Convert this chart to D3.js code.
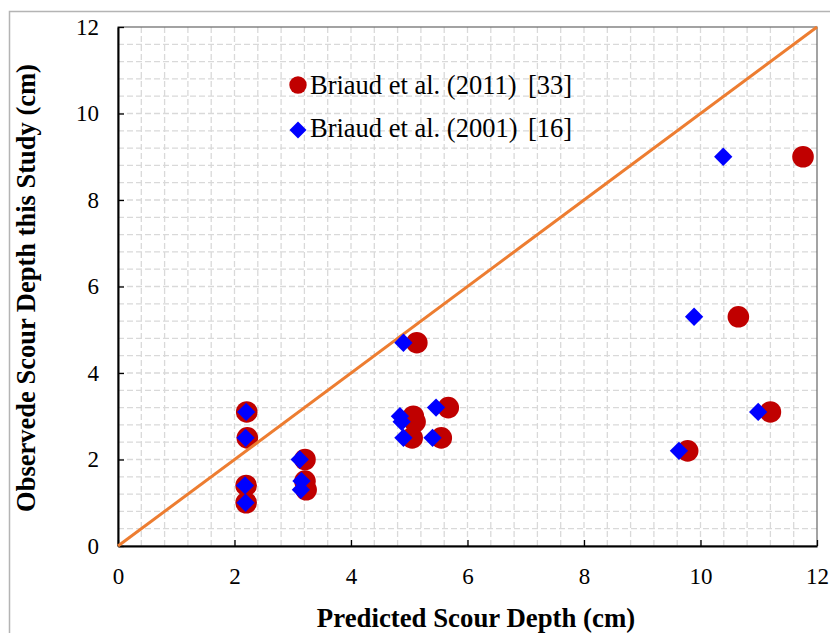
<!DOCTYPE html>
<html>
<head>
<meta charset="utf-8">
<script src="https://cdn.jsdelivr.net/npm/d3@7"></script>
<style>
  body { margin: 0; background: #fff; }
  svg text { font-family: "Liberation Serif", "Times New Roman", serif; }
</style>
</head>
<body>
<svg id="chart" width="830" height="633"></svg>
<script>
// Values
const briaud2011X = [11.76, 10.65, 11.2, 9.78, 5.13, 5.67, 5.07, 5.1, 5.05, 5.55, 2.21, 2.22, 2.2, 2.2, 3.21, 3.21, 3.23]
const briaud2011Y = [9.0, 5.3, 3.1, 2.2, 4.7, 3.2, 3.0, 2.87, 2.5, 2.5, 3.1, 2.5, 1.4, 1.0, 2.0, 1.5, 1.3]
const briaud2001X = [10.39, 9.89, 10.99, 9.63, 4.9, 5.46, 4.84, 4.87, 4.9, 5.4, 2.2, 2.19, 2.18, 2.19, 3.12, 3.15, 3.14]
const briaud2001Y = [9.0, 5.3, 3.1, 2.2, 4.7, 3.2, 3.0, 2.87, 2.5, 2.5, 3.1, 2.5, 1.4, 1.0, 2.0, 1.5, 1.3]
const lineX = [0, 12]
const lineY = [0, 12]
const tickValues = [0, 2, 4, 6, 8, 10, 12]
const legendLabels = ["Briaud et al. (2011)", "Briaud et al. (2001)"]
const legendRefs = ["[33]", "[16]"]

const serif = "Liberation Serif, Times New Roman, serif"
const svg = d3.select("#chart")

const x = d3.scaleLinear().domain([0, 12]).range([118, 817])
const y = d3.scaleLinear().domain([0, 12]).range([546, 27])

// outer chart area border (runs off the bottom / right of the picture)
svg.append("rect")
  .attr("x", 9.5).attr("y", 11.5)
  .attr("width", 900).attr("height", 700)
  .attr("fill", "none")
  .attr("stroke", "#b4b4b4")
  .attr("stroke-width", 1.5)

// minor dashed grid every 0.4
const gridVals = d3.range(1, 30).map(i => i * 0.4)
const grid = svg.append("g")
grid.selectAll("line.v")
  .data(gridVals)
  .enter()
  .append("line")
  .attr("class", "v")
  .attr("x1", d => x(d)).attr("x2", d => x(d))
  .attr("y1", y(0)).attr("y2", y(12))
grid.selectAll("line.h")
  .data(gridVals)
  .enter()
  .append("line")
  .attr("class", "h")
  .attr("y1", d => y(d)).attr("y2", d => y(d))
  .attr("x1", x(0)).attr("x2", x(12))
grid.selectAll("line")
  .attr("stroke", "#d9d9d9")
  .attr("stroke-width", 1.3)
  .attr("stroke-dasharray", "6,3")

// plot frame
svg.append("rect")
  .attr("x", x(0)).attr("y", y(12))
  .attr("width", x(12) - x(0)).attr("height", y(0) - y(12))
  .attr("fill", "none")
  .attr("stroke", "#666")
  .attr("stroke-width", 1.2)

// axes with inward ticks
const xAxis = svg.append("g")
  .attr("transform", `translate(0,${y(0)})`)
  .call(d3.axisTop(x).tickValues(tickValues).tickSize(6).tickSizeOuter(0).tickFormat(d3.format("d")))
  .attr("font-family", serif)
xAxis.selectAll("text")
  .attr("y", 38)
  .attr("font-size", 23)
xAxis.selectAll(".tick line").attr("stroke", "#000").attr("stroke-width", 1.3)
xAxis.select(".domain").attr("stroke", "#000").attr("stroke-width", 2)

const yAxis = svg.append("g")
  .attr("transform", `translate(${x(0)},0)`)
  .call(d3.axisRight(y).tickValues(tickValues).tickSize(6).tickSizeOuter(0).tickFormat(d3.format("d")))
  .attr("font-family", serif)
yAxis.selectAll("text")
  .attr("x", -19)
  .attr("text-anchor", "end")
  .attr("font-size", 23)
yAxis.selectAll(".tick line").attr("stroke", "#000").attr("stroke-width", 1.3)
yAxis.select(".domain").attr("stroke", "#000").attr("stroke-width", 2)
svg.selectAll(".tick text").attr("fill", "#000").attr("font-family", serif)

// Briaud 2011 circles
svg.append("g")
  .selectAll("circle")
  .data(d3.zip(briaud2011X, briaud2011Y))
  .enter()
  .append("circle")
  .attr("cx", d => x(d[0]))
  .attr("cy", d => y(d[1]))
  .attr("r", 10.8)
  .attr("fill", "#c00000")

// 1:1 line
svg.append("path")
  .datum(d3.zip(lineX, lineY))
  .attr("d", d3.line().x(d => x(d[0])).y(d => y(d[1])))
  .attr("fill", "none")
  .attr("stroke", "#ed7d31")
  .attr("stroke-width", 3)

// Briaud 2001 diamonds
const diamond = d3.symbol().type(d3.symbolSquare).size(168)
svg.append("g")
  .selectAll("path")
  .data(d3.zip(briaud2001X, briaud2001Y))
  .enter()
  .append("path")
  .attr("d", diamond)
  .attr("transform", d => `translate(${x(d[0])},${y(d[1])}) rotate(45)`)
  .attr("fill", "#0000ff")

// legend
const legend = svg.append("g").attr("font-family", serif)
legend.append("circle")
  .attr("cx", 298).attr("cy", 85).attr("r", 8.7)
  .attr("fill", "#c00000")
legend.append("path")
  .attr("d", d3.symbol().type(d3.symbolSquare).size(145))
  .attr("transform", "translate(298,130) rotate(45)")
  .attr("fill", "#0000ff")
legend.selectAll("text.lab")
  .data(legendLabels)
  .enter()
  .append("text")
  .attr("class", "lab")
  .attr("x", 310)
  .attr("y", (d, i) => 94 + i * 42.5)
  .attr("font-size", 26.5)
  .attr("font-family", serif)
  .text(d => d)
legend.selectAll("text.ref")
  .data(legendRefs)
  .enter()
  .append("text")
  .attr("class", "ref")
  .attr("x", 528)
  .attr("y", (d, i) => 94 + i * 42.5)
  .attr("font-size", 26.5)
  .attr("font-family", serif)
  .text(d => d)

// axis titles
svg.append("text")
  .attr("x", 476)
  .attr("y", 627)
  .attr("text-anchor", "middle")
  .attr("font-size", 26.8)
  .attr("font-weight", "bold")
  .attr("font-family", serif)
  .text("Predicted Scour Depth (cm)")

svg.append("text")
  .attr("transform", "translate(35,288) rotate(-90)")
  .attr("text-anchor", "middle")
  .attr("font-size", 26.5)
  .attr("font-weight", "bold")
  .attr("font-family", serif)
  .text("Observede Scour Depth this Study (cm)")
</script>
</body>
</html>
